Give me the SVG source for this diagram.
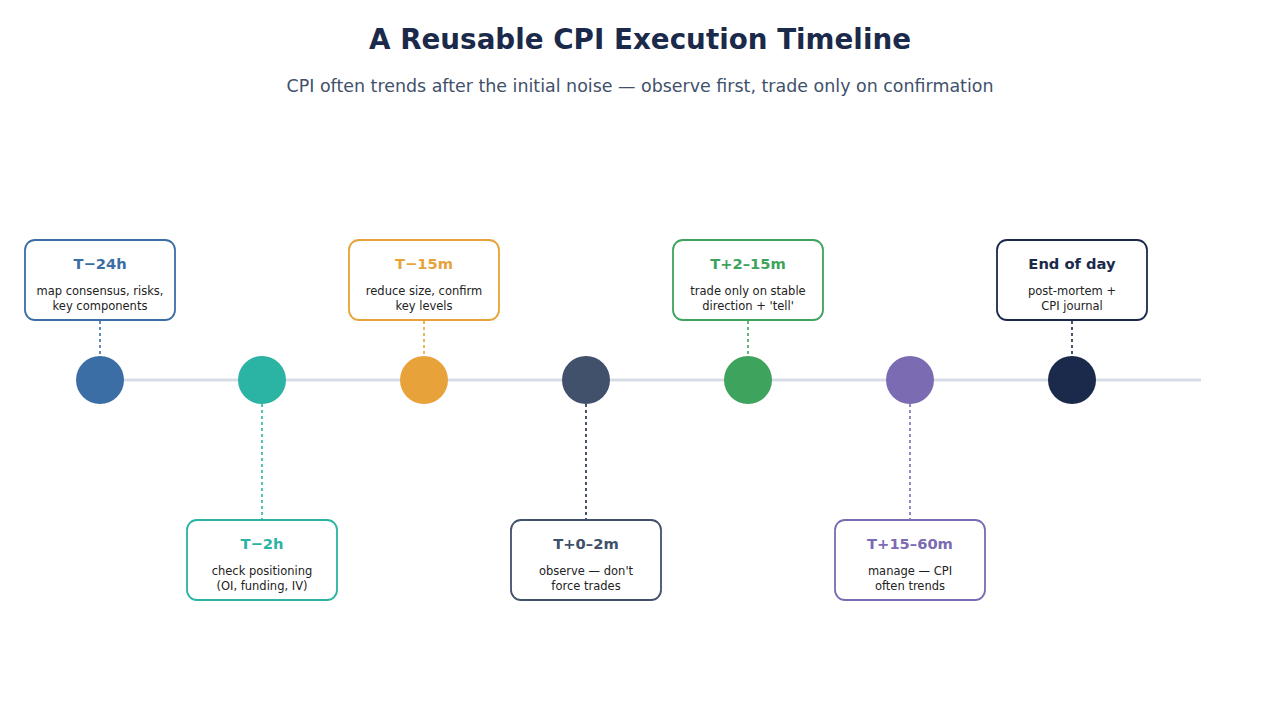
<svg xmlns="http://www.w3.org/2000/svg" width="1280" height="720" viewBox="0 0 1280 720">
<style>
text{font-family:"DejaVu Sans","Liberation Sans",sans-serif;text-anchor:middle}
.title{font-size:29px;font-weight:bold;fill:#1b2a4a}
.sub{font-size:18.5px;fill:#41506b}
.bt{font-size:14.7px;font-weight:bold}
.bd{font-size:11.5px;fill:#222222}
.box{fill:#ffffff;stroke-width:1.8}
.conn{stroke-width:1.6;stroke-dasharray:3,3;fill:none}
</style>
<rect width="1280" height="720" fill="#ffffff"/>
<text class="title" x="640" y="48.5" textLength="542" lengthAdjust="spacingAndGlyphs">A Reusable CPI Execution Timeline</text>
<text class="sub" x="640" y="91.5" textLength="707" lengthAdjust="spacingAndGlyphs">CPI often trends after the initial noise — observe first, trade only on confirmation</text>
<g id="axis"><line x1="100" y1="380" x2="1201" y2="380" stroke="#d7dde6" stroke-width="3"/></g>
<g id="connectors">
<line class="conn" x1="100" y1="321" x2="100" y2="356" stroke="#3b6ea5"/>
<line class="conn" x1="262" y1="404" x2="262" y2="519" stroke="#2bb3a3"/>
<line class="conn" x1="424" y1="321" x2="424" y2="356" stroke="#e8a23a"/>
<line class="conn" x1="586" y1="404" x2="586" y2="519" stroke="#1b2a4a"/>
<line class="conn" x1="748" y1="321" x2="748" y2="356" stroke="#3da35d"/>
<line class="conn" x1="910" y1="404" x2="910" y2="519" stroke="#7b6bb3"/>
<line class="conn" x1="1072" y1="321" x2="1072" y2="356" stroke="#1b2a4a"/>
</g>
<g id="n1">
<circle cx="100" cy="380" r="24" fill="#3b6ea5"/>
<rect class="box" x="25" y="240" width="150" height="80" rx="10" stroke="#3b6ea5"/>
<text class="bt" x="100" y="268.5" fill="#3b6ea5">T−24h</text>
<text class="bd" x="100" y="295">map consensus, risks,</text>
<text class="bd" x="100" y="310">key components</text>
</g>
<g id="n2">
<circle cx="262" cy="380" r="24" fill="#2bb3a3"/>
<rect class="box" x="187" y="520" width="150" height="80" rx="10" stroke="#2bb3a3"/>
<text class="bt" x="262" y="548.5" fill="#2bb3a3">T−2h</text>
<text class="bd" x="262" y="575">check positioning</text>
<text class="bd" x="262" y="590">(OI, funding, IV)</text>
</g>
<g id="n3">
<circle cx="424" cy="380" r="24" fill="#e8a23a"/>
<rect class="box" x="349" y="240" width="150" height="80" rx="10" stroke="#e8a23a"/>
<text class="bt" x="424" y="268.5" fill="#e8a23a">T−15m</text>
<text class="bd" x="424" y="295">reduce size, confirm</text>
<text class="bd" x="424" y="310">key levels</text>
</g>
<g id="n4">
<circle cx="586" cy="380" r="24" fill="#41506b"/>
<rect class="box" x="511" y="520" width="150" height="80" rx="10" stroke="#41506b"/>
<text class="bt" x="586" y="548.5" fill="#41506b">T+0–2m</text>
<text class="bd" x="586" y="575">observe — don't</text>
<text class="bd" x="586" y="590">force trades</text>
</g>
<g id="n5">
<circle cx="748" cy="380" r="24" fill="#3da35d"/>
<rect class="box" x="673" y="240" width="150" height="80" rx="10" stroke="#3da35d"/>
<text class="bt" x="748" y="268.5" fill="#3da35d">T+2–15m</text>
<text class="bd" x="748" y="295">trade only on stable</text>
<text class="bd" x="748" y="310">direction + 'tell'</text>
</g>
<g id="n6">
<circle cx="910" cy="380" r="24" fill="#7b6bb3"/>
<rect class="box" x="835" y="520" width="150" height="80" rx="10" stroke="#7b6bb3"/>
<text class="bt" x="910" y="548.5" fill="#7b6bb3">T+15–60m</text>
<text class="bd" x="910" y="575">manage — CPI</text>
<text class="bd" x="910" y="590">often trends</text>
</g>
<g id="n7">
<circle cx="1072" cy="380" r="24" fill="#1b2a4a"/>
<rect class="box" x="997" y="240" width="150" height="80" rx="10" stroke="#1b2a4a"/>
<text class="bt" x="1072" y="268.5" fill="#1b2a4a">End of day</text>
<text class="bd" x="1072" y="295">post-mortem +</text>
<text class="bd" x="1072" y="310">CPI journal</text>
</g>
</svg>
